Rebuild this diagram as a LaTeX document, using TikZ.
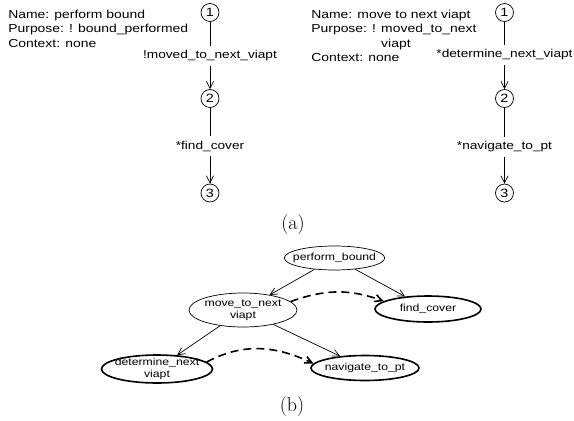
\documentclass[tikz,border=0pt]{standalone}
\usepackage{fontspec}
\usepackage{tikz}
\usetikzlibrary{
    arrows.meta,
    shapes.geometric
}
\newfontfamily\figsf[FakeStretch=1.2]{Liberation Sans}
\tikzset{>={Straight Barb[length=7pt,width=7pt]}}
\tikzset{stc/.style={inner sep=0pt, circle, draw=black, line width=0.7pt, minimum size=18pt, font=\figsf\fontsize{12}{14}\selectfont}}
\tikzset{arcl/.style={inner sep=0pt, minimum height=20pt, font=\figsf\fontsize{11.4}{14}\selectfont}}
\tikzset{info/.style={anchor=north west, inner sep=0pt, align=left, font=\figsf\fontsize{11.6}{14.2}\selectfont}}
\tikzset{gl/.style={ellipse, draw=black, line width=0.7pt, inner xsep=-6pt, inner ysep=-2pt, align=center, font=\figsf\fontsize{10.2}{12}\selectfont}}
\tikzset{glb/.style={gl, line width=1.6pt}}
\tikzset{dsh/.style={->, dash pattern=on 8pt off 5pt, line width=1.6pt}}

\begin{document}
\begin{tikzpicture}[x=1pt, y=-1pt, line width=0.7pt]
                                \useasboundingbox (0, 0) rectangle (574, 421);
                                \node[info] (infoa) at (8, 10) {Name: perform bound\\Purpose: ! bound\_performed\\Context: none};
                                \node[stc] (c1a) at (210, 12.5) {1};
                                \node[arcl] (l1a) at (210, 56) {!moved\_to\_next\_viapt};
                                \node[stc] (c2a) at (210, 98.5) {2};
                                \node[arcl] (l2a) at (210, 146) {*find\_cover};
                                \node[stc] (c3a) at (210, 193) {3};
                                \draw (c1a) -- (l1a);
                                \draw[->] (l1a) -- (c2a);
                                \draw (c2a) -- (l2a);
                                \draw[->] (l2a) -- (c3a);
                                \node[info] (infob) at (311, 10) {Name: move to next viapt\\Purpose: ! moved\_to\_next\\\phantom{Purpose: ! }viapt\\Context: none};
                                \node[stc] (c1b) at (504.5, 12.5) {1};
                                \node[arcl] (l1b) at (504.5, 55) {*determine\_next\_viapt};
                                \node[stc] (c2b) at (504.5, 98.5) {2};
                                \node[arcl] (l2b) at (504.5, 147) {*navigate\_to\_pt};
                                \node[stc] (c3b) at (504.5, 193) {3};
                                \draw (c1b) -- (l1b);
                                \draw[->] (l1b) -- (c2b);
                                \draw (c2b) -- (l2b);
                                \draw[->] (l2b) -- (c3b);
                                \node[font=\fontsize{20}{24}\selectfont] (capa) at (293, 225) {(a)};
                                \node[gl, minimum width=97pt, minimum height=24pt] (pb) at (334.5, 258) {perform\_bound};
                                \node[gl, minimum width=108pt, minimum height=34pt] (mv) at (243, 310) {move\_to\_next\\viapt};
                                \node[glb, minimum width=106pt, minimum height=26pt] (fc) at (428, 309) {find\_cover};
                                \node[glb, minimum width=111pt, minimum height=28pt] (dn) at (157, 369) {determine\_next\\viapt};
                                \node[glb, minimum width=108pt, minimum height=25pt] (nv) at (365, 368) {navigate\_to\_pt};
                                \draw[->] (pb) -- (mv);
                                \draw[->] (pb) -- (fc);
                                \draw[->] (mv) -- (dn);
                                \draw[->] (mv) -- (nv);
                                \draw[dsh] (mv.10) to[out=20, in=160] (fc.170);
                                \draw[dsh] (dn.8) to[out=28, in=155] (nv.175);
                                \node[font=\fontsize{20}{24}\selectfont] (capb) at (292, 407) {(b)};
                            \end{tikzpicture}
\end{document}
